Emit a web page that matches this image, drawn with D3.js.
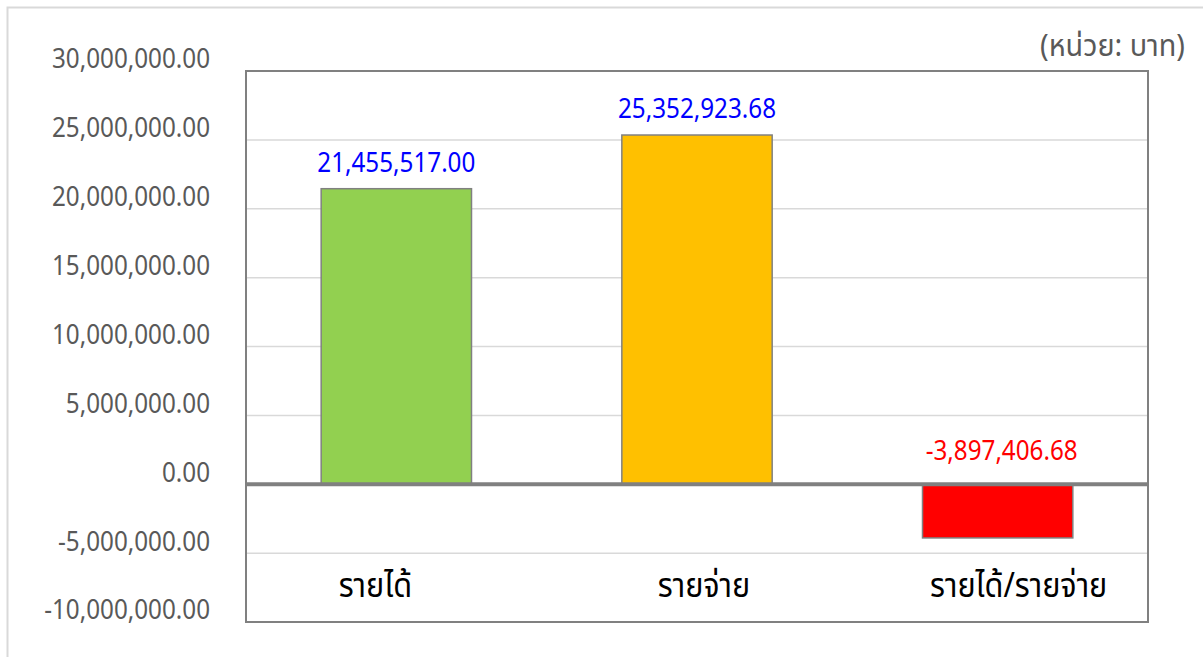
<!DOCTYPE html>
<html><head><meta charset="utf-8">
<script src="https://cdn.jsdelivr.net/npm/d3@7"></script>
<style>
body{margin:0;background:#fff;}
svg{display:block;}
</style></head>
<body>
<svg id="chart" width="1203" height="657"></svg>
<script>
const categories = ["รายได้", "รายจ่าย", "รายได้/รายจ่าย"];
const values = [21455517.00, 25352923.68, -3897406.68];
const barColors = ["#92D050", "#FFC000", "#FF0000"];
const labelColors = ["#0000FF", "#0000FF", "#FF0000"];
const yTicks = [-10000000, -5000000, 0, 5000000, 10000000, 15000000, 20000000, 25000000, 30000000];
const unitLabel = "(หน่วย: บาท)";

const numFont = "'Noto Sans','Open Sans',sans-serif";
const thaiFont = "'Noto Sans Thai','Noto Sans','Liberation Sans',sans-serif";

const svg = d3.select("#chart");
const m = {left: 246, right: 1148, top: 71, bottom: 622};

// horizontally condense a text selection
function condense(sel, k) {
  sel.each(function() {
    const w = this.getComputedTextLength();
    d3.select(this).attr("textLength", w * k).attr("lengthAdjust", "spacingAndGlyphs");
  });
}

// outer border
svg.append("rect").attr("x", 7.5).attr("y", 7.5).attr("width", 1210).attr("height", 680)
  .attr("fill", "none").attr("stroke", "#d9d9d9").attr("stroke-width", 2);

const x = d3.scaleBand().domain(categories).range([m.left, m.right]).paddingInner(0.5).paddingOuter(0.25);
const y = d3.scaleLinear().domain([-10000000, 30000000]).range([m.bottom, m.top]);

// gridlines
svg.append("g").selectAll("line").data(yTicks).join("line")
  .attr("x1", m.left).attr("x2", m.right)
  .attr("y1", d => y(d)).attr("y2", d => y(d))
  .attr("stroke", "#d9d9d9").attr("stroke-width", 1.5);

// y-axis labels
const fmt = d3.format(",.2f");
const yAxis = d3.axisLeft(y).tickValues(yTicks).tickSize(0).tickPadding(0)
  .tickFormat(d => fmt(d).replace("−", "-"));
const ya = svg.append("g").attr("transform", `translate(210,-12)`).call(yAxis);
ya.select(".domain").remove();
ya.selectAll("text").attr("font-family", numFont).attr("font-size", 28).attr("fill", "#595959")
  .call(condense, 0.865);

// bars
svg.append("g").selectAll("rect").data(values).join("rect")
  .attr("x", (d, i) => x(categories[i]))
  .attr("width", x.bandwidth())
  .attr("y", d => d >= 0 ? y(d) : y(0))
  .attr("height", d => Math.abs(y(d) - y(0)))
  .attr("fill", (d, i) => barColors[i])
  .attr("stroke", "#808080").attr("stroke-width", 1.5);

// zero line
svg.append("line").attr("x1", m.left).attr("x2", m.right)
  .attr("y1", y(0)).attr("y2", y(0)).attr("stroke", "#808080").attr("stroke-width", 4);

// plot border
svg.append("rect").attr("x", m.left).attr("y", m.top)
  .attr("width", m.right - m.left).attr("height", m.bottom - m.top)
  .attr("fill", "none").attr("stroke", "#808080").attr("stroke-width", 2);

// data labels
svg.append("g").selectAll("text").data(values).join("text")
  .attr("x", (d, i) => x(categories[i]) + x.bandwidth() / 2 + (d < 0 ? 4 : 0))
  .attr("y", d => (d >= 0 ? y(d) : y(0)) - (d >= 0 ? 17 : 24))
  .attr("text-anchor", "middle")
  .attr("font-family", numFont).attr("font-size", 28)
  .attr("fill", (d, i) => labelColors[i])
  .text(d => fmt(d).replace("−", "-"))
  .call(condense, 0.865);

// category labels
const catShift = [-21, 7, 21];
svg.append("g").selectAll("text").data(categories).join("text")
  .attr("x", (d, i) => x(d) + x.bandwidth() / 2 + catShift[i])
  .attr("y", 597)
  .attr("text-anchor", "middle")
  .attr("font-family", thaiFont).attr("font-size", 34)
  .attr("fill", "#000")
  .text(d => d)
  .call(condense, 0.9);

// unit label
svg.append("text").attr("x", 1185).attr("y", 56).attr("text-anchor", "end")
  .attr("font-family", thaiFont).attr("font-size", 30).attr("fill", "#595959")
  .text(unitLabel).call(condense, 0.96);
</script>
</body></html>
